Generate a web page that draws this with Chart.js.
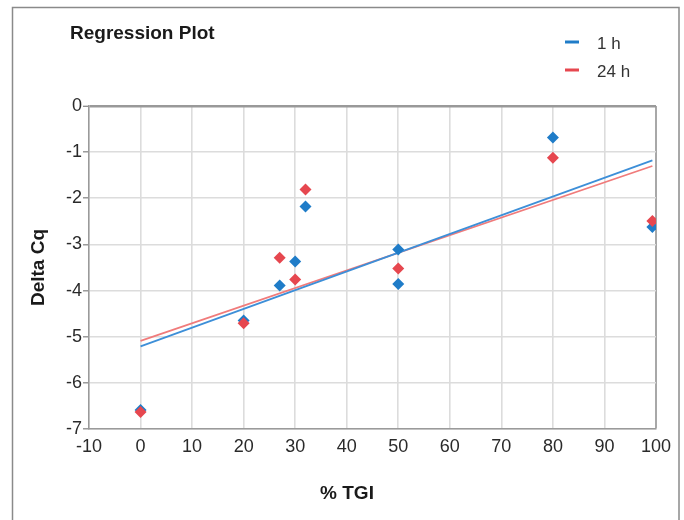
<!DOCTYPE html>
<html><head><meta charset="utf-8">
<script src="https://cdn.jsdelivr.net/npm/chart.js@4"></script>
<style>html,body{margin:0;padding:0;background:#fff}#wrap{width:684px;height:520px}</style>
</head><body><div id="wrap"><canvas id="c" width="684" height="520"></canvas></div>
<script>
// ---- data ----
const chartTitle = 'Regression Plot';
const xAxisTitle = '% TGI';
const yAxisTitle = 'Delta Cq';
const seriesNames = ['1 h', '24 h'];
const tgi1h  = [0, 20, 27, 30, 32, 50, 50, 80, 99.3];
const cq1h   = [-6.59, -4.65, -3.89, -3.37, -2.18, -3.11, -3.86, -0.68, -2.62];
const tgi24h = [0, 20, 27, 30, 32, 50, 80, 99.3];
const cq24h  = [-6.63, -4.71, -3.29, -3.76, -1.81, -3.52, -1.12, -2.49];
const fitX    = [0, 99.3];
const fit1h   = [-5.21, -1.18];
const fit24h  = [-5.09, -1.30];
const xTicks = [-10, 0, 10, 20, 30, 40, 50, 60, 70, 80, 90, 100];
const yTicks = [0, -1, -2, -3, -4, -5, -6, -7];

const BLUE = '#1f7cc8', RED = '#e6474f';
const BLUE_L = '#3d8fd8', RED_L = '#f07b7b';
const SANS = '"Liberation Sans", Arial, sans-serif';

const pts = (xs, ys) => xs.map((x, i) => ({x, y: ys[i]}));

const decor = {
  id: 'decor',
  beforeDraw(chart) {
    const ctx = chart.ctx;
    ctx.save();
    ctx.strokeStyle = '#8a8a8a';
    ctx.lineWidth = 1.5;
    ctx.beginPath();
    ctx.moveTo(12.5, 521); ctx.lineTo(12.5, 7.5); ctx.lineTo(679, 7.5); ctx.lineTo(679, 521);
    ctx.stroke();
    ctx.restore();
  },
  afterDraw(chart) {
    const ctx = chart.ctx;
    ctx.save();
    ctx.fillStyle = '#1a1a1a';
    ctx.font = 'bold 19px ' + SANS;
    ctx.textBaseline = 'middle';
    ctx.textAlign = 'left';
    ctx.fillText(chartTitle, 70, 34);
    // x axis title
    ctx.font = 'bold 19px ' + SANS;
    ctx.textAlign = 'center';
    ctx.fillText(xAxisTitle, 347, 494);
    // legend
    const items = [[seriesNames[0], BLUE, 42], [seriesNames[1], RED, 70]];
    ctx.font = '17px ' + SANS;
    ctx.textAlign = 'left';
    ctx.fillStyle = '#333';
    items.forEach(([t, c, y]) => {
      ctx.strokeStyle = c; ctx.lineWidth = 3;
      ctx.beginPath(); ctx.moveTo(565, y); ctx.lineTo(579, y); ctx.stroke();
      ctx.fillText(t, 597, y + 2);
    });
    ctx.restore();
  }
};

new Chart(document.getElementById('c'), {
  type: 'scatter',
  data: {
    datasets: [
      { label: seriesNames[1] + ' data', data: pts(tgi24h, cq24h), backgroundColor: RED, borderColor: RED,
        pointStyle: 'rectRot', pointRadius: 6, borderWidth: 0 },
      { label: seriesNames[0] + ' data', data: pts(tgi1h, cq1h), backgroundColor: BLUE, borderColor: BLUE,
        pointStyle: 'rectRot', pointRadius: 6, borderWidth: 0 },
      { label: seriesNames[0], data: pts(fitX, fit1h), showLine: true, pointRadius: 0,
        borderColor: BLUE_L, borderWidth: 1.8, backgroundColor: BLUE_L },
      { label: seriesNames[1], data: pts(fitX, fit24h), showLine: true, pointRadius: 0,
        borderColor: RED_L, borderWidth: 1.8, backgroundColor: RED_L }
    ]
  },
  options: {
    responsive: false,
    animation: false,
    layout: { padding: { top: 106, right: 28, left: 0, bottom: 0 } },
    plugins: { legend: { display: false }, title: { display: false }, tooltip: { enabled: false } },
    scales: {
      x: {
        type: 'linear', min: -10, max: 100,
        afterBuildTicks: s => { s.ticks = xTicks.map(v => ({value: v})); },
        afterFit: s => { s.height = 91; },
        ticks: { font: { family: SANS, size: 18 }, color: '#2a2a2a', padding: 7 },
        grid: {
          drawTicks: false,
          color: c => (c.tick && c.tick.value === 100) ? '#a8a8a8' : '#dcdcdc',
          lineWidth: c => (c.tick && c.tick.value === 100) ? 2 : 1.6
        },
        border: { display: true, color: '#9a9a9a', width: 1.5 }
      },
      y: {
        type: 'linear', min: -7, max: 0,
        afterBuildTicks: s => { s.ticks = yTicks.slice().reverse().map(v => ({value: v})); },
        afterFit: s => { s.width = 89; },
        ticks: { font: { family: SANS, size: 18 }, color: '#2a2a2a', padding: 1 },
        grid: {
          tickLength: 6,
          tickColor: '#8a8a8a',
          tickWidth: 1.3,
          color: c => (c.tick && c.tick.value === 0) ? '#999999' : '#dcdcdc',
          lineWidth: c => (c.tick && c.tick.value === 0) ? 2.6 : 1.6
        },
        border: { display: true, color: '#9a9a9a', width: 1.5 },
        title: { display: true, text: yAxisTitle, color: '#1a1a1a',
          font: { family: SANS, size: 19, weight: 'bold' }, padding: { top: 27, bottom: 0 } }
      }
    }
  },
  plugins: [decor]
});
</script></body></html>
